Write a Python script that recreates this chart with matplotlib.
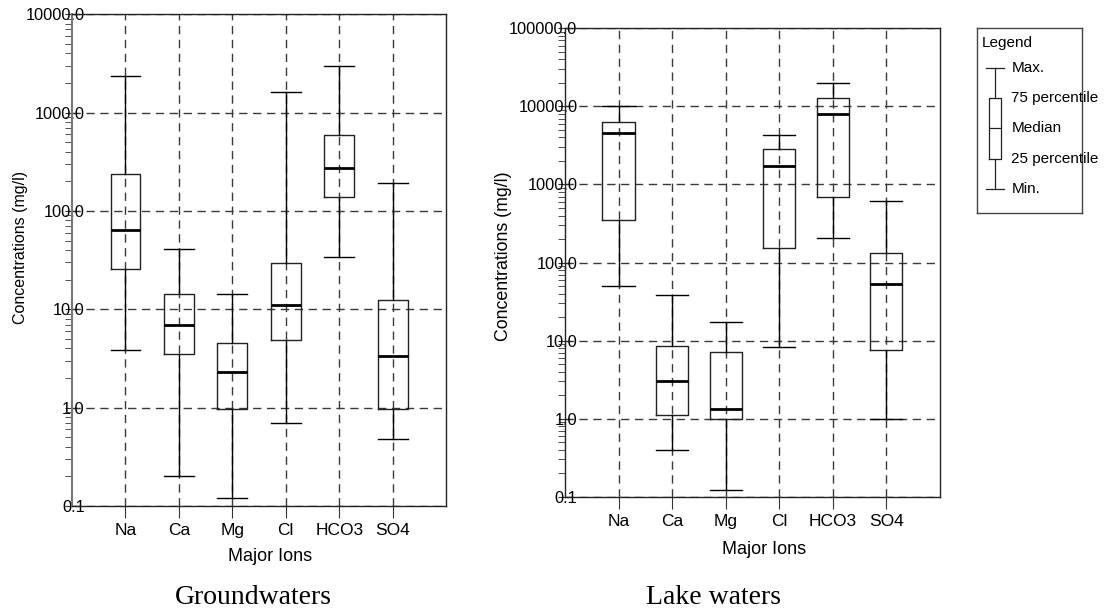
import matplotlib
matplotlib.use("Agg")
import matplotlib.pyplot as plt
from matplotlib.ticker import FixedLocator, FuncFormatter, LogLocator, NullFormatter

plt.rcParams["font.family"] = ["Liberation Sans", "DejaVu Sans"]

# datos
iones = ["Na", "Ca", "Mg", "Cl", "HCO3", "SO4"]

# aguas subterraneas
gw_min = [3.9, 0.2, 0.12, 0.70, 34, 0.48]
gw_q1 = [25.8, 3.5, 0.975, 4.9, 139, 0.97]
gw_med = [63.5, 7.0, 2.3, 11.0, 274, 3.36]
gw_q3 = [238, 14.2, 4.5, 29.3, 594, 12.4]
gw_max = [2380, 41, 14.4, 1610, 2940, 194]

# aguas de lago
lk_min = [49.6, 0.40, 0.122, 8.3, 204, 0.99]
lk_q1 = [353, 1.12, 1.0, 155, 684, 7.6]
lk_med = [4520, 3.03, 1.34, 1710, 7910, 52.6]
lk_q3 = [6360, 8.5, 7.2, 2840, 12800, 133]
lk_max = [10000, 38.7, 17.3, 4300, 20100, 618]

leyenda_txt = ["Min.", "25 percentile", "Median", "75 percentile", "Max."]


def stats(mn, q1, med, q3, mx):
    return [dict(whislo=a, q1=b, med=c, q3=d, whishi=e, fliers=[])
            for a, b, c, d, e in zip(mn, q1, med, q3, mx)]


def caja(ax, st, ymin, ymax, w):
    pos = list(range(1, len(iones) + 1))
    ax.bxp(st, positions=pos, widths=w, capwidths=w, showfliers=False,
           boxprops=dict(color="#222222", lw=1.0),
           medianprops=dict(color="black", lw=2.0),
           whiskerprops=dict(color="black", lw=1.0),
           capprops=dict(color="black", lw=1.0))
    ax.set_yscale("log")
    ax.set_ylim(ymin, ymax)
    ax.set_xlim(0, 7)
    ax.xaxis.set_major_locator(FixedLocator(pos))
    ax.set_xticklabels(iones, fontsize=12.5)
    ax.yaxis.set_major_locator(LogLocator(base=10, numticks=10))
    ax.yaxis.set_minor_locator(LogLocator(base=10, subs=range(2, 10), numticks=20))
    ax.yaxis.set_minor_formatter(NullFormatter())
    ax.yaxis.set_major_formatter(FuncFormatter(lambda v, p: "%.1f" % v))
    ax.tick_params(axis="y", which="major", direction="inout", length=10,
                   pad=-14, labelsize=11.8, color="#333333")
    ax.tick_params(axis="y", which="minor", direction="out", length=5,
                   color="#333333")
    ax.tick_params(axis="x", direction="out", length=8.5, pad=4, color="#333333")
    ax.grid(True, which="major", color="#3a3a3a", lw=1.0, ls=(0, (6, 4)))
    ax.set_axisbelow(True)
    for s in ax.spines.values():
        s.set_color("#222222")
        s.set_linewidth(1.0)
    ax.set_xlabel("Major Ions", fontsize=13)


fig = plt.figure(figsize=(11.1, 6.11), dpi=100)

ax1 = fig.add_axes([0.0649, 0.1718, 0.337, 0.805])
caja(ax1, stats(gw_min, gw_q1, gw_med, gw_q3, gw_max), 0.1, 10000, 0.56)
ax1.spines["left"].set_color("#777777")
ax1.spines["left"].set_linewidth(1.5)
ax1.set_ylabel("Concentrations (mg/l)", fontsize=11.5)
ax1.yaxis.set_label_coords(-0.118, 0.526)
ax1.xaxis.set_label_coords(0.53, -0.085)

ax2 = fig.add_axes([0.509, 0.187, 0.3378, 0.7666])
caja(ax2, stats(lk_min, lk_q1, lk_med, lk_q3, lk_max), 0.1, 100000, 0.6)
ax2.set_ylabel("Concentrations (mg/l)", fontsize=12.8)
ax2.yaxis.set_label_coords(-0.141, 0.513)
ax2.xaxis.set_label_coords(0.53, -0.095)

fig.text(253 / 1110, 1 - 597 / 611, "Groundwaters", ha="center", va="center",
         fontsize=20, family="Liberation Serif")
fig.text(713 / 1110, 1 - 597 / 611, "Lake waters", ha="center", va="center",
         fontsize=20, family="Liberation Serif")

# leyenda dibujada como un boxplot pequeno
ax3 = fig.add_axes([0.880, 0.6514, 0.0946, 0.3028])
ax3.bxp([dict(whislo=0, q1=1, med=2, q3=3, whishi=4, fliers=[])],
        positions=[0.176], widths=0.118, capwidths=0.175, showfliers=False,
        boxprops=dict(color="#222222", lw=0.9),
        medianprops=dict(color="#222222", lw=0.9),
        whiskerprops=dict(color="#222222", lw=0.9),
        capprops=dict(color="#222222", lw=0.9))
ax3.set_xlim(0, 1)
ax3.set_ylim(-0.78, 5.306)
ax3.set_xticks([])
ax3.set_yticks([])
for s in ax3.spines.values():
    s.set_color("#444444")
    s.set_linewidth(1.0)
ax3.text(0.045, 4.8, "Legend", fontsize=11, va="center", ha="left")
for i, t in enumerate(leyenda_txt):
    ax3.text(0.329, i, t, fontsize=11, va="center", ha="left", clip_on=False)

plt.savefig("out.png", dpi=100)
